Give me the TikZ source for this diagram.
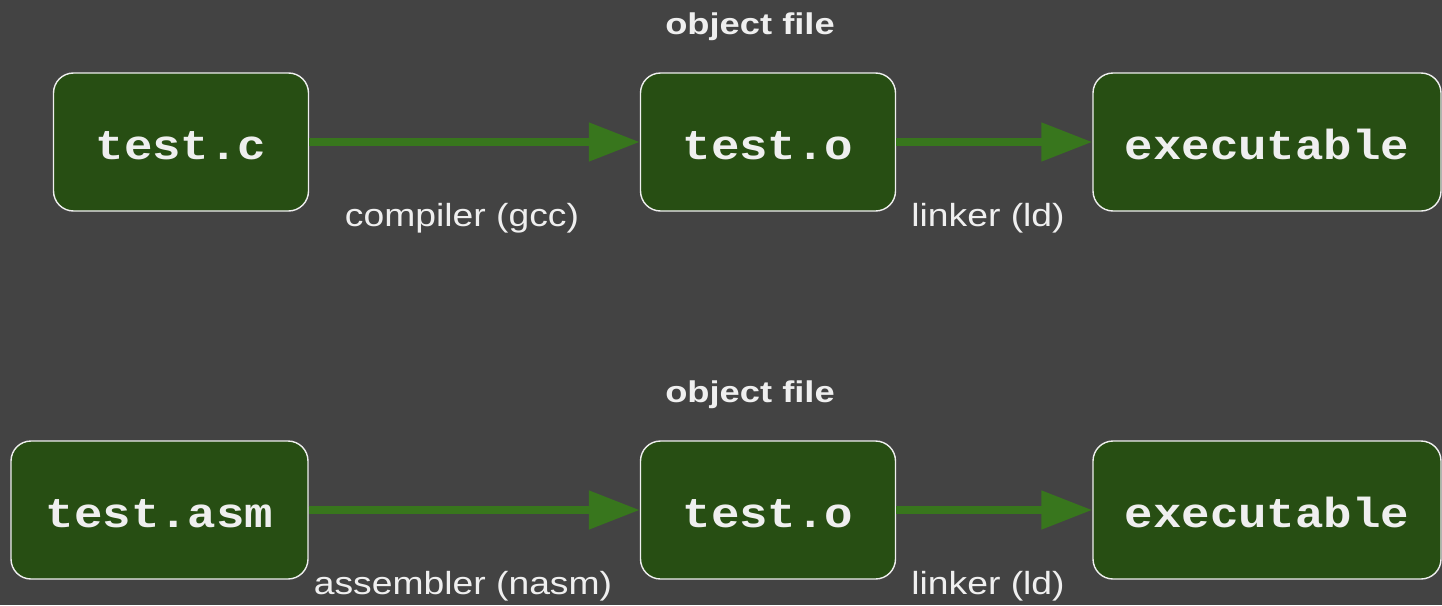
\documentclass[tikz,border=0pt]{standalone}
\usepackage{fontspec}
\setmainfont{Liberation Sans}
\newfontfamily\codefont[FakeStretch=1.13]{Liberation Mono}
\newfontfamily\lblfont[FakeStretch=1.165]{Liberation Sans}
\newfontfamily\hdrfont[FakeStretch=1.21]{Liberation Sans}
\usetikzlibrary{arrows.meta}
\definecolor{bggray}{HTML}{434343}
\definecolor{boxfill}{HTML}{274E13}
\definecolor{arrowgreen}{HTML}{38761D}
\definecolor{txt}{HTML}{EFEFEF}
\tikzset{
  filebox/.style={draw=txt, line width=1.4pt, fill=boxfill, rounded corners=20pt,
    inner sep=0pt, text=txt, minimum height=138pt, text height=34pt, text depth=0pt,
    font=\codefont\bfseries\fontsize{42}{46}\selectfont},
  flow/.style={draw=arrowgreen, line width=8pt, -{Triangle[length=51pt,width=37pt]}},
  lbl/.style={text=txt, inner sep=0pt, anchor=base, font=\lblfont\fontsize{32}{36}\selectfont},
  hdr/.style={text=txt, inner sep=0pt, anchor=base, font=\hdrfont\bfseries\fontsize{30}{34}\selectfont}
}
\begin{document}
\begin{tikzpicture}[x=1pt,y=-1pt]
\fill[bggray] (0,0) rectangle (1442,605);
\useasboundingbox (0,0) rectangle (1442,605);
% top row
\node[filebox, minimum width=255pt] (c) at (181,142) {test.c};
\node[filebox, minimum width=255pt] (o1) at (768,142) {test.o};
\node[filebox, minimum width=348pt] (e1) at (1267,142) {executable};
\node[hdr] (h1) at (750,34) {object file};
\node[lbl] (l1) at (462,226) {compiler (gcc)};
\node[lbl] (l2) at (988,226) {linker (ld)};
\draw[flow] (c.east) -- (o1.west);
\draw[flow] (o1.east) -- (e1.west);
% bottom row
\node[filebox, minimum width=297pt] (a) at (159.5,510) {test.asm};
\node[filebox, minimum width=255pt] (o2) at (768,510) {test.o};
\node[filebox, minimum width=348pt] (e2) at (1267,510) {executable};
\node[hdr] (h2) at (750,402) {object file};
\node[lbl] (l3) at (463,594) {assembler (nasm)};
\node[lbl] (l4) at (988,594) {linker (ld)};
\draw[flow] (a.east) -- (o2.west);
\draw[flow] (o2.east) -- (e2.west);
\end{tikzpicture}
\end{document}
